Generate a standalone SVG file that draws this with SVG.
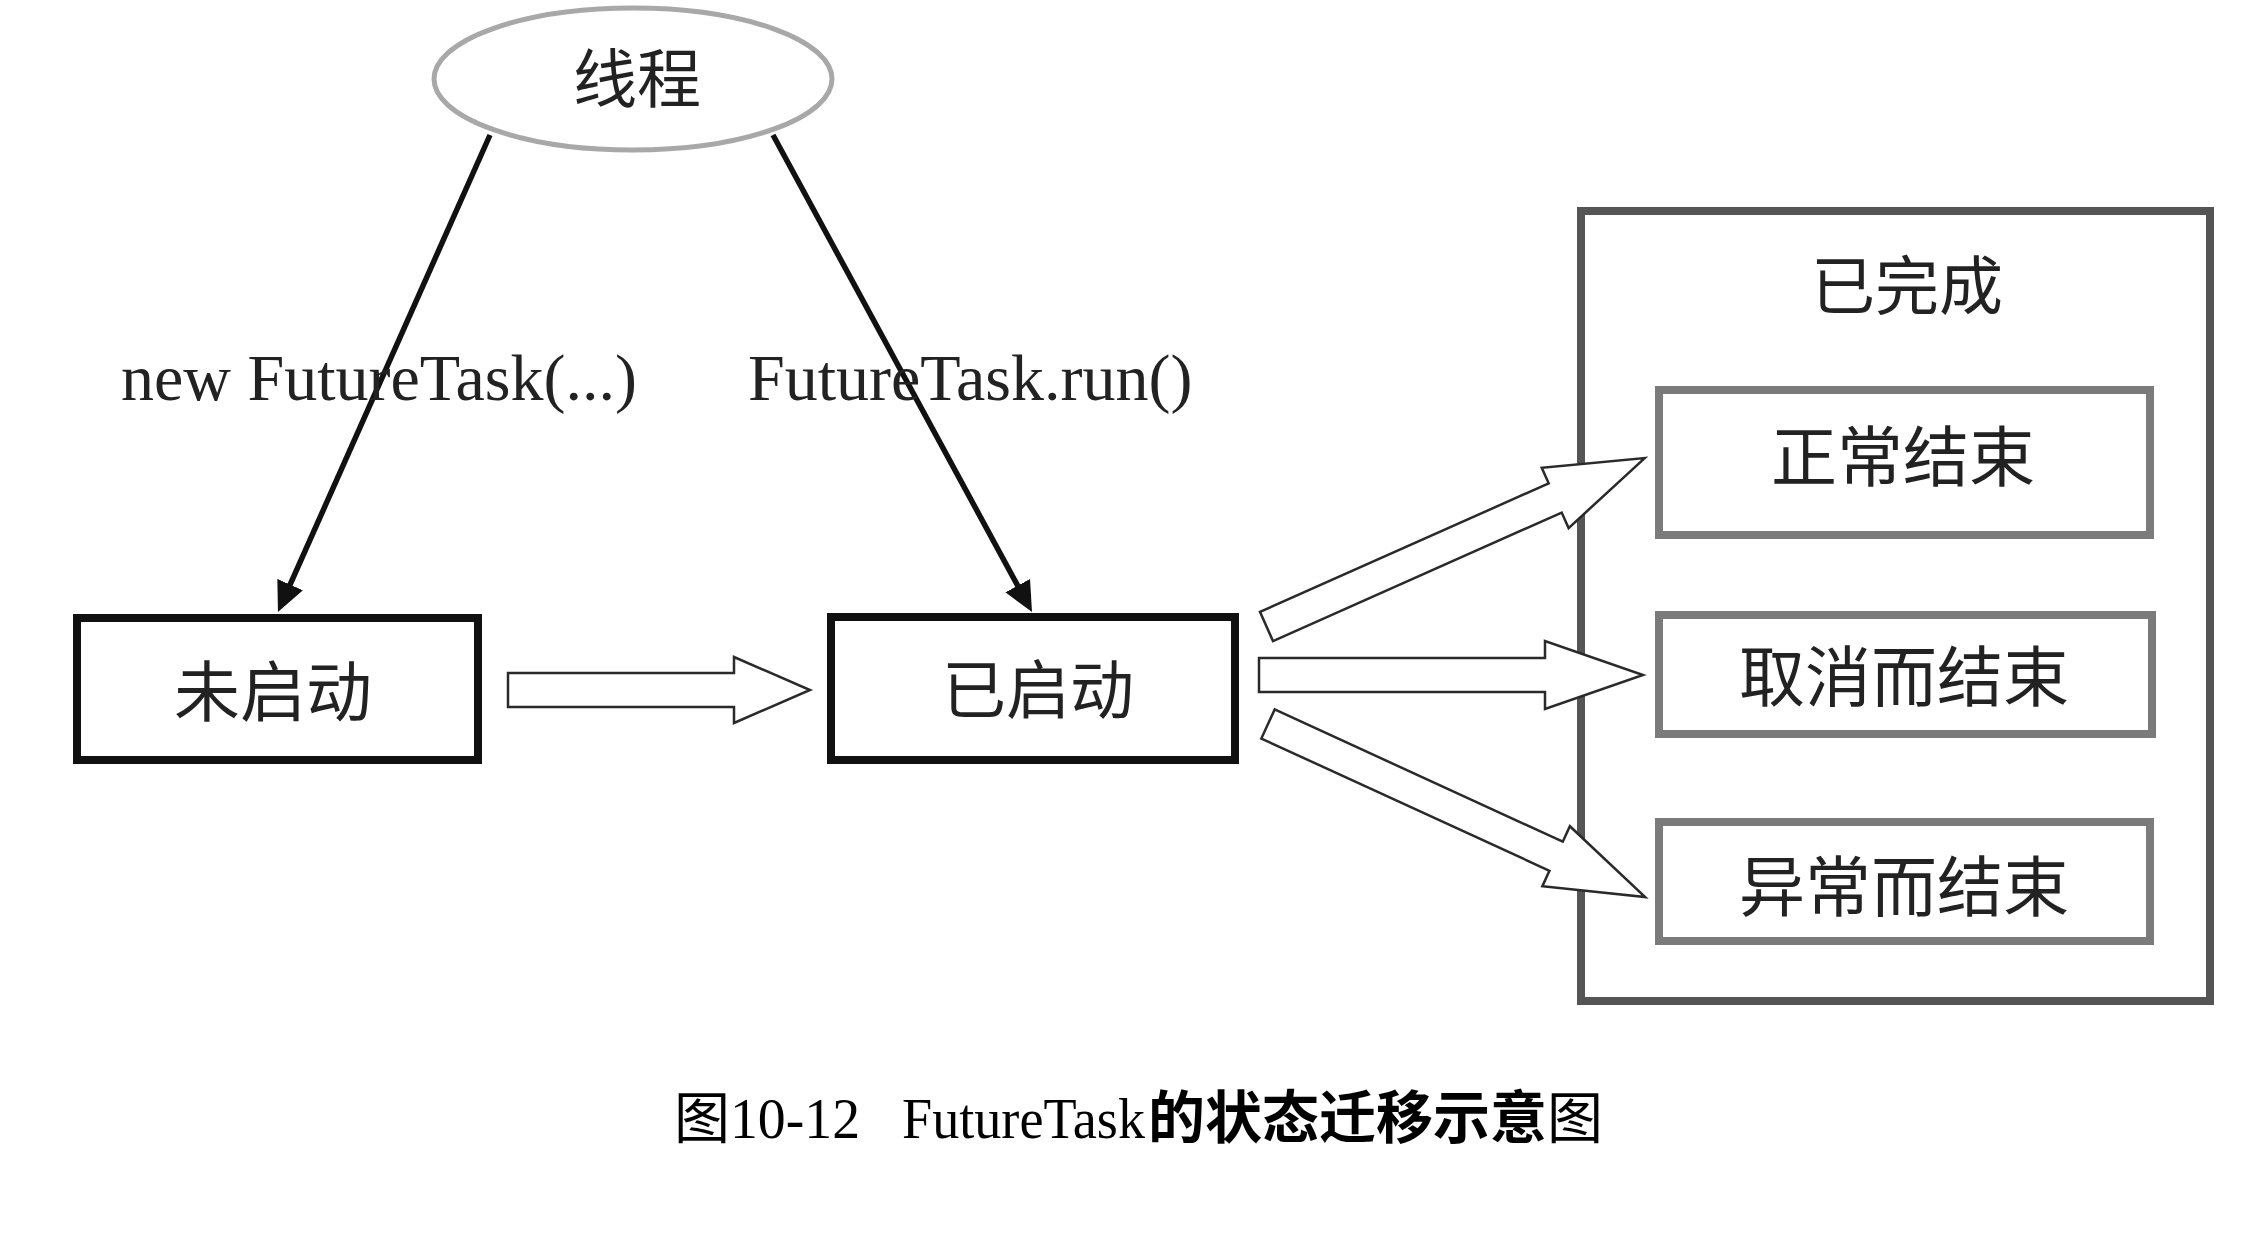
<svg xmlns="http://www.w3.org/2000/svg" width="2250" height="1256" viewBox="0 0 2250 1256">
  <style>
    .cjk { font-family: "Noto Sans CJK SC", "Noto Sans", sans-serif; fill: #222; text-anchor: middle; }
    .lat { font-family: "Liberation Serif", "Times New Roman", serif; fill: #222; }
    .blk { fill: #fff; stroke: #111; stroke-width: 8; }
    .gry { fill: #fff; stroke: #7b7b7b; stroke-width: 8; }
    .outer { fill: #fff; stroke: #555; stroke-width: 8; }
    .line { fill: none; stroke: #111; stroke-width: 5.5; marker-end: url(#ah); }
    .hollow { fill: #fff; stroke: #2a2a2a; stroke-width: 2.5; stroke-linejoin: miter; }
  </style>
  <defs>
    <marker id="ah" viewBox="0 0 30 28" refX="22" refY="14" markerWidth="30" markerHeight="28" markerUnits="userSpaceOnUse" orient="auto">
      <path d="M0,0 L30,14 L0,28 Z" fill="#111"/>
    </marker>
  </defs>
  <rect x="0" y="0" width="2250" height="1256" fill="#fff"/>

  <g id="node-thread">
    <ellipse cx="633" cy="79" rx="199" ry="71" fill="#fff" stroke="#a8a8a8" stroke-width="5"/>
    <text class="cjk" x="637" y="102" font-size="64">线程</text>
  </g>

  <g id="node-not-started">
    <rect class="blk" x="77" y="618" width="401" height="142"/>
    <text class="cjk" x="273" y="716" font-size="66">未启动</text>
  </g>

  <g id="node-started">
    <rect class="blk" x="831" y="617" width="404" height="143"/>
    <text class="cjk" x="1038" y="713" font-size="64">已启动</text>
  </g>

  <g id="node-completed">
    <rect class="outer" x="1581" y="211" width="629" height="790"/>
    <text class="cjk" x="1907" y="309" font-size="64">已完成</text>
  </g>

  <g id="node-normal">
    <rect class="gry" x="1659" y="390" width="491" height="145"/>
    <text class="cjk" x="1903" y="481" font-size="66">正常结束</text>
  </g>

  <g id="node-cancelled">
    <rect class="gry" x="1659" y="615" width="493" height="119"/>
    <text class="cjk" x="1904" y="701" font-size="66">取消而结束</text>
  </g>

  <g id="node-exception">
    <rect class="gry" x="1659" y="822" width="491" height="119"/>
    <text class="cjk" x="1904" y="911" font-size="66">异常而结束</text>
  </g>

  <g id="connectors">
    <line class="line" x1="490" y1="135" x2="281.2" y2="604.7"/>
    <line class="line" x1="773" y1="135" x2="1028.2" y2="605"/>
    <path class="hollow" d="M508,673 H734 V657 L810,690 L734,723 V707 H508 Z"/>
    <path class="hollow" d="M1259,658 H1545 V641 L1643,675 L1545,709 V692 H1259 Z"/>
    <path class="hollow" transform="translate(1266.5,626.5) rotate(-24)" d="M0,-16 H316 V-33 L414,0 L316,33 V16 H0 Z"/>
    <path class="hollow" transform="translate(1268,724) rotate(24.65)" d="M0,-16 H317 V-33 L415,0 L317,33 V16 H0 Z"/>
  </g>

  <g id="edge-labels">
    <text class="lat" x="121" y="400" font-size="66">new FutureTask(...)</text>
    <text class="lat" x="748" y="400" font-size="66">FutureTask.run()</text>
  </g>

  <g id="caption">
    <text x="677" y="1138" font-size="56" fill="#000">
      <tspan font-family="Noto Sans CJK SC, sans-serif" x="674">图</tspan><tspan font-family="Liberation Serif, serif" x="730" textLength="130" lengthAdjust="spacingAndGlyphs">10-12</tspan><tspan font-family="Liberation Serif, serif" x="902" textLength="243" lengthAdjust="spacingAndGlyphs">FutureTask</tspan><tspan font-family="Noto Sans CJK SC, sans-serif" font-weight="bold" font-size="57" x="1148">的状态迁移示意</tspan><tspan font-family="Noto Sans CJK SC, sans-serif" x="1547">图</tspan>
    </text>
  </g>
</svg>
